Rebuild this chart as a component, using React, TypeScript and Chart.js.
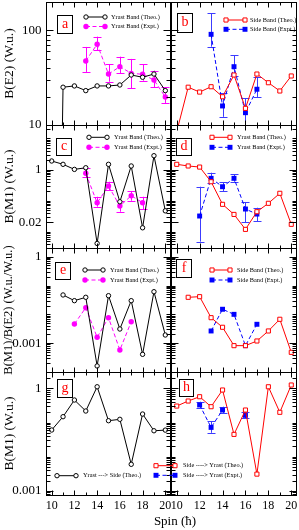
import React, { useEffect, useRef } from "react";
import { Chart, registerables } from "chart.js";

Chart.register(...registerables);

// ---------------- data ----------------
const SPINS = [10, 11, 12, 13, 14, 15, 16, 17, 18, 19, 20];
const SPIN_TICKS = [10, 12, 14, 16, 18, 20];

// (a) B(E2), yrast band
const A_THEO = [0.000001, 25.1, 25.9, 23.1, 25.9, 25.9, 26.5, 33.8, 32, 34.6, 23.1];
const A_EXPT = [null, null, null, 47.6, 71.5, 34.6, 41.4, 35.2, 34.4, 29.9, 19.8];
const A_EXPT_LO = [null, null, null, 36.4, 62, 28.7, 35.5, 24.6, 29.4, 25.1, 17.1];
const A_EXPT_HI = [null, null, null, 66.9, 86, 44, 52.8, 50, 44, 37.6, 25.2];

// (b) B(E2), side band
const B_THEO = [8.5, 25.1, 22.3, 25.4, 19.9, 33.8, 15, 34.6, 28, 22.9, 33];
const B_EXPT = [null, null, null, 91, 15.9, 41.4, 13.5, 23.9, null, null, null];
const B_EXPT_LO = [null, null, null, 67.4, 12.2, 33, 10, 19.8, null, null, null];
const B_EXPT_HI = [null, null, null, 152, 21.8, 55, 19.2, 32.2, null, null, null];

// (c) B(M1), yrast band
const C_THEO = [1.88, 1.47, 1.01, 1.14, 0.0042, 1.47, 0.092, 1.3, 0.0134, 2.78, 0.047];
const C_EXPT = [null, null, null, 0.755, 0.0857, 0.295, 0.067, 0.144, 0.0857, null, null];
const C_EXPT_LO = [null, null, null, 0.56, 0.064, 0.219, 0.044, 0.099, 0.0525, null, null];
const C_EXPT_HI = [null, null, null, 1.09, 0.133, 0.405, 0.097, 0.204, 0.133, null, null];

// (d) B(M1), side band
const D_THEO = [1.47, 1.3, 1.2, 0.405, 0.076, 0.036, 0.0119, 0.044, 0.082, 0.172, 0.0173];
const D_EXPT = [null, null, 0.032, 0.521, 0.28, 0.521, 0.0537, 0.037, null, null, null];
const D_EXPT_LO = [null, null, 0.0048, 0.36, 0.204, 0.405, 0.02, 0.022, null, null, null];
const D_EXPT_HI = [null, null, 0.28, 0.79, 0.388, 0.7, 0.088, 0.059, null, null, null];

// (e) B(M1)/B(E2), yrast band
const E_THEO = [null, 0.047, 0.0298, 0.039, 0.000162, 0.0444, 0.0031, 0.0298, 0.00041, 0.061, 0.00192];
const E_EXPT = [null, null, 0.00463, 0.017, 0.0016, 0.00766, 0.00058, 0.00556, null, null, null];

// (f) B(M1)/B(E2), side band
const F_THEO = [null, 0.039, 0.041, 0.00766, 0.00356, 0.00082, 0.00082, 0.00119, 0.00265, 0.00674, 0.00048];
const F_EXPT = [null, null, null, 0.00265, 0.015, 0.01, 0.00082, 0.00452, null, null, null];

// (g) B(M1), yrast -> side
const G_THEO = [0.0604, 0.148, 0.455, 0.217, 1.11, 0.113, 0.124, 0.006, 0.177, 0.0574, 0.06];

// (h) B(M1), side -> yrast
const H_THEO = [0.303, 0.425, 0.568, 0.29, 0.892, 0.045, 0.232, 0.0031, 1.11, 0.199, 1.25];
const H_EXPT = [null, null, 0.326, 0.072, 0.232, null, 0.162, null, null, null, null];
const H_EXPT_LO = [null, null, 0.27, 0.05, 0.19, null, 0.135, null, null, null, null];
const H_EXPT_HI = [null, null, 0.406, 0.11, 0.29, null, 0.2, null, null, null, null];

// axis ranges and tick labels, per row
const ROW_Y_MIN = [10, 0.003, 0.0001, 0.00076];
const ROW_Y_MAX = [200, 27, 2, 3];
const ROW_Y_TICKS = [[10, 100], [1, 0.02], [1, 0.001], [1, 0.001]];
const ROW_Y_TICK_LABELS = [["10", "100"], ["1", "0.02"], ["1", "0.001"], ["1", "0.001"]];
const ROW_Y_TITLES = ["B(E2) (W.u.)", "B(M1) (W.u.)", "B(M1)/B(E2) (W.u./W.u.)", "B(M1) (W.u.)"];

// ---------------- layout / style ----------------
const W = 299;
const H = 530;
const COLS = [{ left: 46, right: 171 }, { left: 171, right: 297 }];
const ROWS = [{ top: 2, bottom: 125 }, { top: 125, bottom: 248 }, { top: 248, bottom: 372 }, { top: 372, bottom: 495 }];
const Y_AXIS_W = 46;
const X_AXIS_H = 35;
const SERIF = "'Liberation Serif', 'DejaVu Serif', serif";
const ROW_TITLE_SIZE = [13.5, 13.5, 12.5, 13.5];

type Style = { color: string; marker: string; dash: number[]; errColor?: string };
const THEO_YRAST: Style = { color: "#000000", marker: "openCircle", dash: [] };
const EXPT_YRAST: Style = { color: "#ff00ff", marker: "filledCircle", dash: [4, 2.5], errColor: "#ff00ff" };
const THEO_SIDE: Style = { color: "#ff0000", marker: "openSquare", dash: [] };
const EXPT_SIDE: Style = { color: "#0000ff", marker: "filledSquare", dash: [4, 2.5], errColor: "#3c3cff" };

type Series = { values: (number | null)[]; style: Style; lo?: (number | null)[]; hi?: (number | null)[] };
type LegendRow = { y: number; style: Style; text: string };
type Panel = {
  letter: string;
  col: number;
  row: number;
  series: Series[];
  box: [number, number, number, number];
  legend: { x0: number; x1: number; tx: number; rows: LegendRow[] };
};

const PANELS: Panel[] = [
  {
    letter: "a", col: 0, row: 0, box: [57, 15, 15, 18],
    series: [
      { values: A_THEO, style: THEO_YRAST },
      { values: A_EXPT, style: EXPT_YRAST, lo: A_EXPT_LO, hi: A_EXPT_HI },
    ],
    legend: { x0: 86, x1: 105, tx: 111, rows: [
      { y: 17, style: THEO_YRAST, text: "Yrast Band (Theo.)" },
      { y: 26.5, style: EXPT_YRAST, text: "Yrast Band (Expt.)" },
    ] },
  },
  {
    letter: "b", col: 1, row: 0, box: [177, 13, 15, 19],
    series: [
      { values: B_THEO, style: THEO_SIDE },
      { values: B_EXPT, style: EXPT_SIDE, lo: B_EXPT_LO, hi: B_EXPT_HI },
    ],
    legend: { x0: 226, x1: 245, tx: 250, rows: [
      { y: 20, style: THEO_SIDE, text: "Side Band (Theo.)" },
      { y: 29.3, style: EXPT_SIDE, text: "Side Band (Expt.)" },
    ] },
  },
  {
    letter: "c", col: 0, row: 1, box: [56, 138, 15, 17],
    series: [
      { values: C_THEO, style: THEO_YRAST },
      { values: C_EXPT, style: EXPT_YRAST, lo: C_EXPT_LO, hi: C_EXPT_HI },
    ],
    legend: { x0: 89, x1: 107, tx: 114, rows: [
      { y: 137.3, style: THEO_YRAST, text: "Yrast Band (Theo.)" },
      { y: 147.3, style: EXPT_YRAST, text: "Yrast Band (Expt.)" },
    ] },
  },
  {
    letter: "d", col: 1, row: 1, box: [176, 138, 15, 17],
    series: [
      { values: D_THEO, style: THEO_SIDE },
      { values: D_EXPT, style: EXPT_SIDE, lo: D_EXPT_LO, hi: D_EXPT_HI },
    ],
    legend: { x0: 212, x1: 230, tx: 237, rows: [
      { y: 137.3, style: THEO_SIDE, text: "Yrast Band (Theo.)" },
      { y: 147.3, style: EXPT_SIDE, text: "Yrast Band (Expt.)" },
    ] },
  },
  {
    letter: "e", col: 0, row: 2, box: [55, 262, 15, 17],
    series: [
      { values: E_THEO, style: THEO_YRAST },
      { values: E_EXPT, style: EXPT_YRAST },
    ],
    legend: { x0: 85, x1: 103, tx: 110, rows: [
      { y: 270, style: THEO_YRAST, text: "Yrast Band (Theo.)" },
      { y: 280, style: EXPT_YRAST, text: "Yrast Band (Expt.)" },
    ] },
  },
  {
    letter: "f", col: 1, row: 2, box: [176, 259, 15, 18],
    series: [
      { values: F_THEO, style: THEO_SIDE },
      { values: F_EXPT, style: EXPT_SIDE },
    ],
    legend: { x0: 212, x1: 230, tx: 237, rows: [
      { y: 270, style: THEO_SIDE, text: "Side Band (Theo.)" },
      { y: 280, style: EXPT_SIDE, text: "Side Band (Expt.)" },
    ] },
  },
  {
    letter: "g", col: 0, row: 3, box: [57, 379, 15, 18],
    series: [{ values: G_THEO, style: THEO_YRAST }],
    legend: { x0: 57, x1: 76, tx: 83, rows: [
      { y: 475.7, style: THEO_YRAST, text: "Yrast ---> Side (Theo.)" },
    ] },
  },
  {
    letter: "h", col: 1, row: 3, box: [179, 379, 14, 17],
    series: [
      { values: H_THEO, style: THEO_SIDE },
      { values: H_EXPT, style: EXPT_SIDE, lo: H_EXPT_LO, hi: H_EXPT_HI },
    ],
    legend: { x0: 156, x1: 175, tx: 183, rows: [
      { y: 465.7, style: THEO_SIDE, text: "Side ----> Yrast (Theo.)" },
      { y: 475.3, style: EXPT_SIDE, text: "Side ----> Yrast (Expt.)" },
    ] },
  },
];

// ---------------- helpers ----------------
function markerGeom(style: Style) {
  const circle = style.marker.includes("Circle");
  const open = style.marker.startsWith("open");
  const radius = circle ? (open ? 2.2 : 2.7) : open ? 2.9 : 3.5;
  return { circle, open, radius };
}

function drawMarker(ctx: CanvasRenderingContext2D, style: Style, x: number, y: number) {
  const { circle, open, radius } = markerGeom(style);
  ctx.beginPath();
  if (circle) ctx.arc(x, y, radius, 0, Math.PI * 2);
  else {
    const h = radius * Math.SQRT1_2;
    ctx.rect(x - h, y - h, 2 * h, 2 * h);
  }
  ctx.fillStyle = open ? "#ffffff" : style.color;
  ctx.fill();
  if (open) {
    ctx.lineWidth = 1;
    ctx.strokeStyle = style.color;
    ctx.stroke();
  }
}

function makeDataset(s: Series) {
  const { circle, open, radius } = markerGeom(s.style);
  return {
    data: SPINS.map((x, i) => ({ x, y: s.values[i] })),
    borderColor: s.style.color,
    backgroundColor: s.style.color,
    borderWidth: 1,
    borderDash: s.style.dash,
    fill: false,
    tension: 0,
    spanGaps: false,
    pointStyle: circle ? "circle" : "rect",
    pointRadius: radius,
    pointBorderWidth: open ? 1 : 0,
    pointBackgroundColor: open ? "#ffffff" : s.style.color,
    pointBorderColor: s.style.color,
    errLo: s.lo,
    errHi: s.hi,
    errColor: s.style.errColor,
  };
}

function minorTicks(min: number, max: number) {
  const out: number[] = [];
  for (let e = Math.floor(Math.log10(min)); e <= Math.ceil(Math.log10(max)); e++) {
    for (let k = 1; k <= 9; k++) {
      const v = k * Math.pow(10, e);
      if (v > min && v < max) out.push(v);
    }
  }
  return out;
}

function makeDeco(p: Panel) {
  return {
    id: "deco_" + p.letter,
    beforeDatasetsDraw(chart: any) {
      const { ctx, chartArea: ca, scales } = chart;
      ctx.save();
      ctx.beginPath();
      ctx.rect(ca.left, ca.top, ca.right - ca.left, ca.bottom - ca.top);
      ctx.clip();
      chart.data.datasets.forEach((ds: any) => {
        if (!ds.errLo) return;
        ctx.strokeStyle = ds.errColor;
        ctx.lineWidth = 1;
        ctx.setLineDash([]);
        ds.data.forEach((pt: any, i: number) => {
          const lo = ds.errLo[i];
          const hi = ds.errHi[i];
          if (lo == null || hi == null) return;
          const x = Math.round(scales.x.getPixelForValue(pt.x)) + 0.5;
          const y1 = scales.y.getPixelForValue(lo);
          const y2 = scales.y.getPixelForValue(hi);
          ctx.beginPath();
          ctx.moveTo(x, y1);
          ctx.lineTo(x, y2);
          ctx.moveTo(x - 4, Math.round(y1) + 0.5);
          ctx.lineTo(x + 4, Math.round(y1) + 0.5);
          ctx.moveTo(x - 4, Math.round(y2) + 0.5);
          ctx.lineTo(x + 4, Math.round(y2) + 0.5);
          ctx.stroke();
        });
      });
      ctx.restore();
    },
    afterDraw(chart: any) {
      const { ctx, chartArea: ca, scales } = chart;
      const xs = scales.x;
      const ys = scales.y;
      const L = Math.round(ca.left) + 0.5;
      const R = Math.round(ca.right) - 0.5;
      const T = Math.round(ca.top) + 0.5;
      const B = Math.round(ca.bottom) + 0.5;
      ctx.save();
      ctx.setLineDash([]);
      ctx.strokeStyle = "#000";
      ctx.lineWidth = 1;
      ctx.strokeRect(L, T, R - L, B - T);
      ctx.beginPath();
      SPINS.forEach((s) => {
        const x = Math.round(xs.getPixelForValue(s)) + 0.5;
        const len = s % 2 === 0 ? 5 : 3;
        ctx.moveTo(x, T);
        ctx.lineTo(x, T + len);
        ctx.moveTo(x, B);
        ctx.lineTo(x, B - len);
      });
      const yTick = (v: number, len: number) => {
        const y = Math.round(ys.getPixelForValue(v)) + 0.5;
        if (y <= T || y >= B) return;
        ctx.moveTo(L, y);
        ctx.lineTo(L + len, y);
        ctx.moveTo(R, y);
        ctx.lineTo(R - len, y);
      };
      minorTicks(ROW_Y_MIN[p.row], ROW_Y_MAX[p.row]).forEach((v) => yTick(v, 4));
      ROW_Y_TICKS[p.row].forEach((v) => yTick(v, 7));
      ctx.stroke();

      // panel letter box
      const [bx, by, bw, bh] = p.box;
      ctx.strokeStyle = "#000";
      ctx.strokeRect(bx + 0.5, by + 0.5, bw, bh);
      ctx.fillStyle = "#ff0000";
      ctx.font = `14px ${SERIF}`;
      ctx.textAlign = "center";
      ctx.textBaseline = "middle";
      ctx.fillText(p.letter, bx + bw / 2 + 0.5, by + bh / 2);

      // legend
      const lg = p.legend;
      lg.rows.forEach((r) => {
        ctx.strokeStyle = r.style.color;
        ctx.lineWidth = 1;
        ctx.setLineDash(r.style.dash);
        ctx.beginPath();
        ctx.moveTo(lg.x0, r.y);
        ctx.lineTo(lg.x1, r.y);
        ctx.stroke();
        ctx.setLineDash([]);
        drawMarker(ctx, r.style, lg.x0, r.y);
        drawMarker(ctx, r.style, lg.x1, r.y);
        ctx.fillStyle = "#000";
        ctx.font = `6.3px ${SERIF}`;
        ctx.textAlign = "left";
        ctx.textBaseline = "middle";
        ctx.fillText(r.text, lg.tx, r.y);
      });
      ctx.restore();
    },
  };
}

function buildConfig(p: Panel): any {
  const col = COLS[p.col];
  const row = ROWS[p.row];
  const showY = p.col === 0;
  const showX = p.row === 3;
  const yTicks = ROW_Y_TICKS[p.row];
  const yLabels = ROW_Y_TICK_LABELS[p.row];
  return {
    type: "line",
    data: { datasets: p.series.map(makeDataset) },
    options: {
      animation: false,
      responsive: false,
      events: [],
      layout: {
        autoPadding: false,
        padding: {
          left: showY ? col.left - Y_AXIS_W : col.left,
          right: W - col.right,
          top: row.top,
          bottom: showX ? H - row.bottom - X_AXIS_H : H - row.bottom,
        },
      },
      plugins: { legend: { display: false }, tooltip: { enabled: false } },
      scales: {
        x: {
          type: "linear",
          min: 9.5,
          max: 20.5,
          bounds: "data",
          display: showX,
          grid: { display: false, drawTicks: false },
          border: { display: false },
          ticks: {
            autoSkip: false,
            maxRotation: 0,
            padding: 4,
            color: "#000",
            font: { family: SERIF, size: 12 },
            callback: (v: number) => String(v),
          },
          afterBuildTicks: (s: any) => {
            s.ticks = SPIN_TICKS.map((v) => ({ value: v }));
          },
          afterFit: (s: any) => {
            s.height = showX ? X_AXIS_H : 0;
            s.paddingLeft = 0;
            s.paddingRight = 0;
            s.paddingTop = 0;
            s.paddingBottom = 0;
          },
        },
        y: {
          type: "logarithmic",
          min: ROW_Y_MIN[p.row],
          max: ROW_Y_MAX[p.row],
          bounds: "data",
          display: showY,
          grid: { display: false, drawTicks: false },
          border: { display: false },
          title: {
            display: showY,
            text: ROW_Y_TITLES[p.row],
            color: "#000",
            font: { family: SERIF, size: ROW_TITLE_SIZE[p.row] },
            padding: { top: 1, bottom: 0 },
          },
          ticks: {
            padding: 4.5,
            color: "#000",
            autoSkip: false,
            font: { family: SERIF, size: 13 },
            callback: (v: number) => {
              const i = yTicks.indexOf(v);
              return i >= 0 ? yLabels[i] : "";
            },
          },
          afterBuildTicks: (s: any) => {
            s.ticks = yTicks.map((v) => ({ value: v }));
          },
          afterFit: (s: any) => {
            s.width = showY ? Y_AXIS_W : 0;
            s.paddingTop = 0;
            s.paddingBottom = 0;
            s.paddingLeft = 0;
            s.paddingRight = 0;
          },
        },
      },
    },
    plugins: [makeDeco(p)],
  };
}

function PanelChart({ panel }: { panel: Panel }) {
  const ref = useRef<HTMLCanvasElement>(null);
  useEffect(() => {
    const chart = new Chart(ref.current as HTMLCanvasElement, buildConfig(panel));
    return () => chart.destroy();
  }, [panel]);
  return (
    <canvas
      ref={ref}
      width={W}
      height={H}
      style={{ position: "absolute", left: 0, top: 0, width: W, height: H }}
    />
  );
}

export default function App() {
  return (
    <div style={{ position: "fixed", left: 0, top: 0, width: W, height: H, background: "#ffffff", overflow: "hidden" }}>
      {PANELS.map((p) => (
        <PanelChart key={p.letter} panel={p} />
      ))}
      <div
        style={{
          position: "absolute",
          left: 125,
          top: 512,
          width: 100,
          height: 18,
          lineHeight: "18px",
          textAlign: "center",
          fontFamily: SERIF,
          fontSize: 13,
          color: "#000",
        }}
      >
        Spin (ħ)
      </div>
    </div>
  );
}
